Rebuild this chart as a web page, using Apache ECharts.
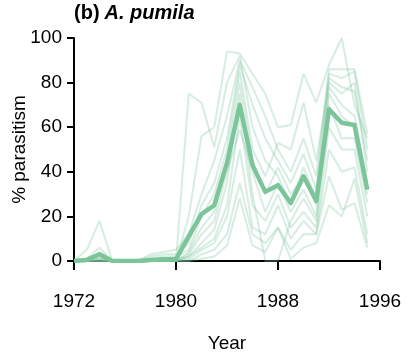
<!DOCTYPE html>
<html>
<head>
<meta charset="utf-8">
<script src="https://cdn.jsdelivr.net/npm/echarts@6/dist/echarts.min.js"></script>
<style>
  html, body { margin: 0; padding: 0; background: #fff; }
  #chart { width: 407px; height: 353px; }
</style>
</head>
<body>
<div id="chart"></div>
<script>
// Survey years
const years = [1972, 1973, 1974, 1975, 1976, 1977, 1978, 1979, 1980, 1981, 1982, 1983,
               1984, 1985, 1986, 1987, 1988, 1989, 1990, 1991, 1992, 1993, 1994, 1995];

// Percent parasitism at each individual site
const site1  = [0, 0, 0, 0, 0, 0, 0, 0, 0, 75, 71, 51, 80, 92, 60, 45, 38, 25, 42, 28, 82, 78, 76, 45];
const site2  = [0, 5, 18, 0, 0, 0, 0, 0, 0, 20, 56, 60, 94, 93, 84, 75, 60, 61, 84, 71, 88, 100, 70, 55];
const site3  = [0, 1, 6, 0, 0, 0, 3, 4, 5, 12, 30, 45, 65, 90, 78, 65, 50, 40, 55, 38, 86, 86, 86, 57];
const site4  = [0, 0, 4, 0, 0, 0, 2, 3, 3, 8, 25, 35, 55, 88, 70, 55, 45, 35, 48, 32, 84, 82, 85, 50];
const site5  = [0, 0, 3, 0, 0, 0, 1, 2, 2, 5, 20, 30, 50, 85, 50, 38, 53, 50, 71, 45, 80, 75, 80, 40];
const site6  = [0, 0, 2, 0, 0, 0, 0, 1, 0, 4, 15, 22, 45, 80, 45, 30, 42, 30, 38, 25, 78, 70, 65, 35];
const site7  = [0, 0, 1, 0, 0, 0, 0, 0, 0, 3, 12, 18, 40, 59, 40, 22, 35, 22, 32, 20, 75, 65, 60, 30];
const site8  = [0, 0, 1, 0, 0, 0, 0, 0, 0, 2, 8, 14, 35, 75, 30, 0, 0, 18, 28, 18, 70, 55, 55, 26];
const site9  = [0, 0, 1, 0, 0, 0, 0, 0, 0, 2, 6, 10, 25, 65, 25, 18, 30, 15, 22, 15, 60, 50, 50, 20];
const site10 = [0, 0, 0, 0, 0, 0, 0, 0, 0, 1, 5, 8, 20, 50, 15, 12, 25, 10, 18, 12, 50, 40, 42, 12];
const site11 = [0, 0, 0, 0, 0, 0, 0, 0, 0, 0, 3, 5, 12, 35, 12, 8, 15, 5, 12, 12, 38, 23, 26, 6];
const site12 = [0, 0, 0, 0, 0, 0, 0, 0, 0, 0, 1, 2, 7, 28, 7, 4, 15, 1, 6, 8, 25, 20, 37, 8];

// Mean across sites
const meanValues = [0, 0.5, 3, 0, 0, 0, 0.5, 0.8, 0.8, 11, 21, 25, 44, 70, 43, 31, 34, 26,
                    38, 27, 68, 62, 61, 32];

// Axis ticks
const xTicks = [1972, 1980, 1988, 1996];
const yTicks = [0, 20, 40, 60, 80, 100];

const sites = [site1, site2, site3, site4, site5, site6, site7, site8, site9, site10, site11, site12];

const green = '#7cc59b';
const font = 'Liberation Sans, Arial, Helvetica, sans-serif';

const pairs = vals => years.map((y, i) => [y, vals[i]]);

const series = sites.map(vals => ({
  type: 'line',
  data: pairs(vals),
  symbol: 'none',
  silent: true,
  z: 2,
  lineStyle: { color: green, width: 2, opacity: 0.3 }
}));
series.push({
  type: 'line',
  data: pairs(meanValues),
  symbol: 'none',
  silent: true,
  z: 5,
  lineStyle: { color: green, width: 4.5, opacity: 1, join: 'round' }
});

const chart = echarts.init(document.getElementById('chart'), null, { renderer: 'canvas' });
chart.setOption({
  animation: false,
  backgroundColor: '#fff',
  title: {
    text: '{b|(b)} {i|A. pumila}',
    left: 69,
    top: -2,
    textStyle: {
      rich: {
        b: { fontFamily: font, fontSize: 20, fontWeight: 'bold', color: '#000' },
        i: { fontFamily: font, fontSize: 20, fontStyle: 'italic', color: '#000' }
      }
    }
  },
  grid: { left: 74, right: 27, top: 38, bottom: 92, containLabel: false, outerBoundsMode: 'none' },
  xAxis: {
    type: 'value',
    min: xTicks[0],
    max: xTicks[xTicks.length - 1],
    interval: 8,
    offset: 11,
    name: 'Year',
    nameLocation: 'middle',
    nameGap: 62,
    nameMoveOverlap: false,
    nameTextStyle: { fontFamily: font, fontSize: 19, color: '#000' },
    axisLine: { show: true, lineStyle: { color: '#000', width: 2 } },
    axisTick: { show: true, inside: false, length: 9, lineStyle: { color: '#000', width: 2 } },
    axisLabel: { fontFamily: font, fontSize: 19, color: '#000', margin: 20, formatter: v => String(v) },
    splitLine: { show: false }
  },
  yAxis: {
    type: 'value',
    min: yTicks[0],
    max: yTicks[yTicks.length - 1],
    interval: 20,
    name: '% parasitism',
    nameLocation: 'middle',
    nameRotate: 90,
    nameGap: 45,
    nameMoveOverlap: false,
    nameTextStyle: { fontFamily: font, fontSize: 19, color: '#000' },
    axisLine: { show: true, lineStyle: { color: '#000', width: 2 } },
    axisTick: { show: true, inside: false, length: 7, lineStyle: { color: '#000', width: 2 } },
    axisLabel: { fontFamily: font, fontSize: 19, color: '#000', margin: 12 },
    splitLine: { show: false }
  },
  series: series
});
</script>
</body>
</html>
